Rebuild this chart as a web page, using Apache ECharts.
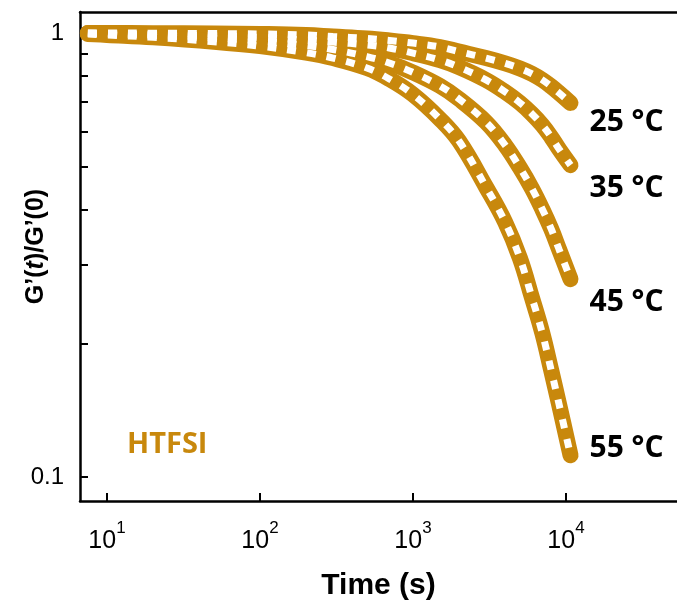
<!DOCTYPE html>
<html>
<head>
<meta charset="utf-8">
<script src="https://cdn.jsdelivr.net/npm/echarts@6/dist/echarts.min.js"></script>
<style>
html,body{margin:0;padding:0;background:#fff;}
#chart{width:677px;height:606px;}
</style>
</head>
<body>
<div id="chart"></div>
<script>
// ---- data ----
var seriesNames = ['25 °C', '35 °C', '45 °C', '55 °C'];
var times = [7.5, 10, 20, 50, 100, 200, 300, 500, 700, 1000, 1500, 2000, 3000, 4000, 5000, 6000, 7000, 8000, 9000, 10700];
var g25 = [1.0, 1.0, 0.999, 0.997, 0.995, 0.990, 0.982, 0.972, 0.962, 0.949, 0.930, 0.908, 0.878, 0.854, 0.832, 0.809, 0.784, 0.758, 0.733, 0.696];
var g35 = [1.0, 0.997, 0.992, 0.985, 0.977, 0.964, 0.954, 0.940, 0.925, 0.901, 0.869, 0.838, 0.784, 0.737, 0.696, 0.657, 0.620, 0.583, 0.548, 0.504];
var g45 = [0.997, 0.995, 0.987, 0.974, 0.959, 0.937, 0.918, 0.885, 0.856, 0.815, 0.760, 0.710, 0.630, 0.559, 0.497, 0.446, 0.401, 0.362, 0.326, 0.279];
var g55 = [0.995, 0.990, 0.978, 0.956, 0.934, 0.903, 0.878, 0.834, 0.788, 0.727, 0.640, 0.571, 0.450, 0.375, 0.311, 0.253, 0.211, 0.174, 0.146, 0.112];
var xTicks = [10, 100, 1000, 10000];
var yTicks = [0.1, 0.2, 0.3, 0.4, 0.5, 0.6, 0.7, 0.8, 0.9, 1];
var yLabels = [0.1, 1];
var sampleLabel = 'HTFSI';

// ---- styles ----
var gold = '#C8880C';
var labelDy = [20, 23, 23, -7];
var allG = [g25, g35, g45, g55];

function pairs(arr) { return times.map(function (t, i) { return [t, arr[i]]; }); }

var series = [];
allG.forEach(function (arr, k) {
  series.push({
    name: seriesNames[k] + ' base', type: 'line', data: pairs(arr), showSymbol: false, symbol: 'none',
    smooth: 0.4, z: 2, silent: true,
    lineStyle: { color: gold, width: 16, cap: 'round', join: 'round' }
  });
});
allG.forEach(function (arr, k) {
  series.push({
    name: seriesNames[k], type: 'line', data: pairs(arr), showSymbol: false, symbol: 'none',
    smooth: 0.4, z: 3, silent: true,
    lineStyle: { color: '#fff', width: 7, type: [9, 11], cap: 'butt' },
    endLabel: {
      show: true, formatter: '{a}', distance: 19, offset: [0, labelDy[k]],
      fontFamily: 'Open Sans', fontWeight: 'bold', fontSize: 30, color: '#000'
    }
  });
});

var chart = echarts.init(document.getElementById('chart'), null, { renderer: 'canvas' });
chart.setOption({
  animation: false,
  backgroundColor: '#fff',
  grid: { left: 80, right: 0, top: 12, bottom: 105, containLabel: false, outerBoundsMode: 'none' },
  xAxis: [{
    type: 'log', logBase: 10, min: Math.pow(10, 1 - 27 / 153), max: Math.pow(10, 4 + 111 / 153),
    name: 'Time (s)', nameLocation: 'middle', nameGap: 70, nameMoveOverlap: false,
    nameTextStyle: { fontFamily: 'Liberation Sans', fontWeight: 'bold', fontSize: 30, color: '#000' },
    axisLine: { show: true, onZero: false, lineStyle: { color: '#000', width: 2.5 } },
    axisTick: { show: true, inside: true, length: 8, lineStyle: { color: '#000', width: 2 }, customValues: xTicks },
    axisLabel: {
      show: true, margin: 19, customValues: xTicks,
      formatter: function (v) { return '{b|10}{s|' + Math.round(Math.log10(v)) + '}'; },
      rich: {
        b: { fontFamily: 'Liberation Sans', fontSize: 25, color: '#000' },
        s: { fontFamily: 'Liberation Sans', fontSize: 17, color: '#000', padding: [0, 0, 26, 0] }
      }
    },
    splitLine: { show: false }, minorTick: { show: false }
  }, {
    type: 'log', logBase: 10, position: 'top', min: Math.pow(10, 1 - 27 / 153), max: Math.pow(10, 4 + 111 / 153),
    axisLine: { show: true, onZero: false, lineStyle: { color: '#000', width: 2.5 } },
    axisTick: { show: false }, axisLabel: { show: false }, splitLine: { show: false }
  }],
  yAxis: {
    type: 'log', logBase: 10, min: Math.pow(10, -1 - 24 / 444), max: Math.pow(10, 21 / 444),
    name: '{b|G’(}{i|t}{b|)/G’(0)}', nameLocation: 'middle', nameGap: 31, nameMoveOverlap: false,
    nameTextStyle: {
      padding: [0, 0, 0, 20],
      rich: {
        b: { fontFamily: 'Liberation Sans', fontWeight: 'bold', fontSize: 25, color: '#000' },
        i: { fontFamily: 'Liberation Sans', fontWeight: 'bold', fontStyle: 'italic', fontSize: 25, color: '#000' }
      }
    },
    axisLine: { show: true, onZero: false, lineStyle: { color: '#000', width: 2.5 } },
    axisTick: { show: true, inside: true, length: 8, lineStyle: { color: '#000', width: 2 }, customValues: yTicks },
    axisLabel: {
      show: true, margin: 16, customValues: yLabels,
      fontFamily: 'Liberation Sans', fontSize: 24, color: '#000',
      formatter: function (v) { return v > 0.5 ? '1' : '0.1'; }
    },
    splitLine: { show: false }, minorTick: { show: false }
  },
  graphic: [{
    type: 'text', x: 127, y: 445,
    style: { text: sampleLabel, fill: gold, font: 'bold 29px "Open Sans"', verticalAlign: 'middle', align: 'left' }
  }],
  series: series
});
</script>
</body>
</html>
